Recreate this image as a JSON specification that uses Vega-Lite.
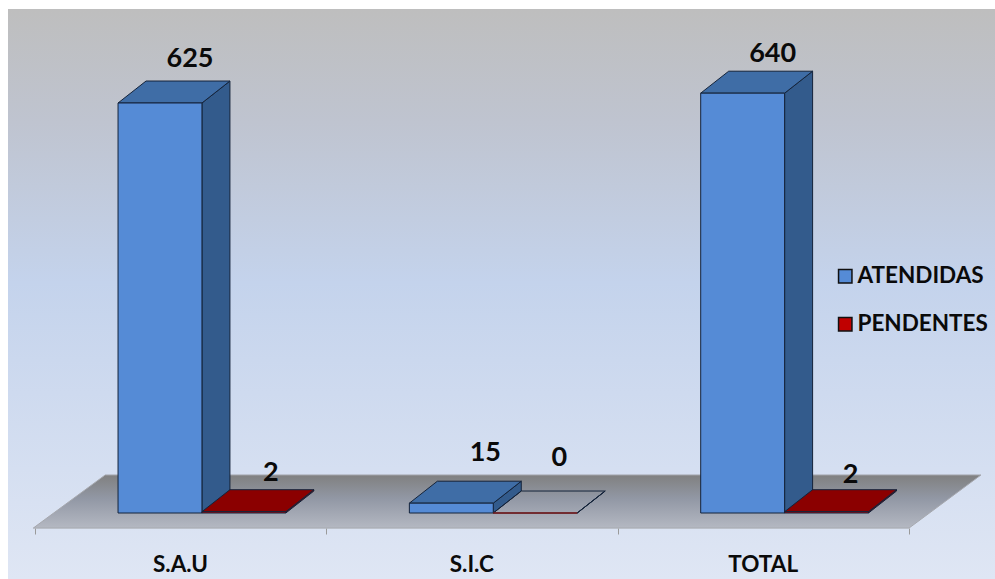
{
"$schema":"https://vega.github.io/schema/vega-lite/v6.json",
"autosize":"none",
"width":987,"height":570,
"padding":{"left":8,"top":9,"right":0,"bottom":0},
"background":"white",
"view":{"stroke":null,"fill":{"gradient":"linear","x1":0,"y1":0,"x2":0,"y2":1,"stops":[{"offset":0,"color":"#BEBEBE"},{"offset":0.2,"color":"#BFC4D0"},{"offset":0.48,"color":"#C4D3EC"},{"offset":1,"color":"#DFE6F4"}]}},
"params":[{"name":"w","value":0.288},{"name":"dx","value":0.0961},{"name":"dy","value":33.5}],
"data":{"values":[
{"category":"S.A.U","series":"ATENDIDAS","value":625},
{"category":"S.A.U","series":"PENDENTES","value":2},
{"category":"S.I.C","series":"ATENDIDAS","value":15},
{"category":"S.I.C","series":"PENDENTES","value":0},
{"category":"TOTAL","series":"ATENDIDAS","value":640},
{"category":"TOTAL","series":"PENDENTES","value":2}
]},
"transform":[
{"calculate":"indexof(['S.A.U','S.I.C','TOTAL'],datum.category)","as":"idx"},
{"calculate":"datum.idx+0.285+(datum.series==='PENDENTES'?w:0)","as":"x0"},
{"calculate":"datum.x0+w","as":"x1"},
{"calculate":"0","as":"base"}
],
"layer":[
{"data":{"values":[{"t":0},{"t":1}]},
 "transform":[
  {"calculate":"-0.006+0.247*datum.t","as":"xa"},
  {"calculate":"3.0+0.247*datum.t","as":"xb"},
  {"calculate":"-23+81*datum.t","as":"ya"}
 ],
 "mark":{"type":"area","orient":"horizontal","stroke":"#A6A8AE","strokeWidth":1,
  "fill":{"gradient":"linear","x1":0,"y1":0,"x2":0,"y2":1,"stops":[{"offset":0,"color":"#808080"},{"offset":0.45,"color":"#9298A5"},{"offset":1,"color":"#B4B8C2"}]}},
 "encoding":{
  "x":{"field":"xa","type":"quantitative","scale":{"domain":[-0.0927,3.2952],"nice":false,"zero":false},
   "title":null,
   "axis":{"values":[0,1,2,3],"offset":-51,"domain":false,"grid":false,"tickSize":6,"tickColor":"#9A9A9A","tickWidth":1,"title":null,
    "labelExpr":"['S.A.U','S.I.C','TOTAL',''][datum.value]","labelOffset":145,"labelFont":"Lato","labelFontWeight":"bold","labelFontSize":22.5,"labelColor":"#0A0A0A","labelPadding":30,"labelBaseline":"middle","labelAlign":"center","labelFlush":false,"labelOverlap":false}},
  "x2":{"field":"xb"},
  "y":{"field":"ya","type":"quantitative","sort":null,"scale":{"domain":[-100.6,768.3],"nice":false,"zero":false},"axis":null}
 }},
{"transform":[
  {"calculate":"[0,1]","as":"pts"},{"flatten":["pts"],"as":["t"]},
  {"calculate":"datum.x1+dx*datum.t","as":"xa"},
  {"calculate":"datum.value+dy*datum.t","as":"ya"},
  {"calculate":"dy*datum.t","as":"yb"}
 ],
 "mark":{"type":"area","orient":"vertical","stroke":"#14233A","strokeWidth":1},
 "encoding":{
  "x":{"field":"xa","type":"quantitative","title":null,"scale":{"domain":[-0.0927,3.2952],"nice":false,"zero":false}},
  "y":{"field":"ya","type":"quantitative","scale":{"domain":[-100.6,768.3],"nice":false,"zero":false},"axis":null},
  "y2":{"field":"yb"},
  "detail":{"field":"x0"},
  "fill":{"condition":{"test":"datum.value===0","value":"transparent"},"field":"series","type":"nominal","legend":null,"scale":{"domain":["ATENDIDAS","PENDENTES"],"range":["#335B8C","#8B0000"]}}
 }},
{"transform":[
  {"calculate":"[0,1]","as":"pts"},{"flatten":["pts"],"as":["t"]},
  {"calculate":"datum.x0+dx*datum.t","as":"xa"},
  {"calculate":"datum.x1+dx*datum.t","as":"xb"},
  {"calculate":"datum.value+dy*datum.t","as":"ya"}
 ],
 "mark":{"type":"area","orient":"horizontal","stroke":"#14233A","strokeWidth":1},
 "encoding":{
  "x":{"field":"xa","type":"quantitative","title":null,"scale":{"domain":[-0.0927,3.2952],"nice":false,"zero":false}},
  "x2":{"field":"xb"},
  "y":{"field":"ya","type":"quantitative","scale":{"domain":[-100.6,768.3],"nice":false,"zero":false},"axis":null},
  "detail":{"field":"x0"},
  "fill":{"condition":{"test":"datum.value===0","value":"transparent"},"field":"series","type":"nominal","legend":null,"scale":{"domain":["ATENDIDAS","PENDENTES"],"range":["#3F6DA6","#8B0000"]}}
 }},
{"mark":{"type":"rect","strokeWidth":1},
 "encoding":{
  "x":{"field":"x0","type":"quantitative","title":null,"scale":{"domain":[-0.0927,3.2952],"nice":false,"zero":false}},
  "x2":{"field":"x1"},
  "y":{"field":"value","type":"quantitative","scale":{"domain":[-100.6,768.3],"nice":false,"zero":false},"axis":null},
  "y2":{"field":"base"},
  "stroke":{"condition":{"test":"datum.value===0","value":"#7A1A1A"},"value":"#14233A"},
  "fill":{"field":"series","type":"nominal","scale":{"domain":["ATENDIDAS","PENDENTES"],"range":["#558BD6","#C00000"]},
   "legend":{"title":null,"orient":"none","legendX":826,"legendY":256,"symbolType":"square","symbolSize":180,"symbolStrokeColor":"#101010","symbolStrokeWidth":1.5,"labelFont":"Lato","labelFontWeight":"bold","labelFontSize":22.5,"labelColor":"#0A0A0A","labelOffset":1,"rowPadding":25,"labelLimit":200}}
 }},
{"transform":[
  {"calculate":"{'S.A.U|ATENDIDAS':[30,44],'S.A.U|PENDENTES':[27,39],'S.I.C|ATENDIDAS':[34,50],'S.I.C|PENDENTES':[24,55],'TOTAL|ATENDIDAS':[30,39],'TOTAL|PENDENTES':[24,37]}[datum.category+'|'+datum.series]","as":"nudge"},
  {"calculate":"datum.x0+w/2+datum.nudge[0]/291.33","as":"xa"},
  {"calculate":"datum.value+datum.nudge[1]/0.656","as":"ya"}
 ],
 "mark":{"type":"text","font":"Lato","fontWeight":"bold","fontSize":27,"color":"#0A0A0A","align":"center","baseline":"middle"},
 "encoding":{
  "x":{"field":"xa","type":"quantitative","title":null,"scale":{"domain":[-0.0927,3.2952],"nice":false,"zero":false}},
  "y":{"field":"ya","type":"quantitative","scale":{"domain":[-100.6,768.3],"nice":false,"zero":false},"axis":null},
  "text":{"field":"value","type":"quantitative"}
 }}
],
"resolve":{"scale":{"fill":"independent"}}
}
